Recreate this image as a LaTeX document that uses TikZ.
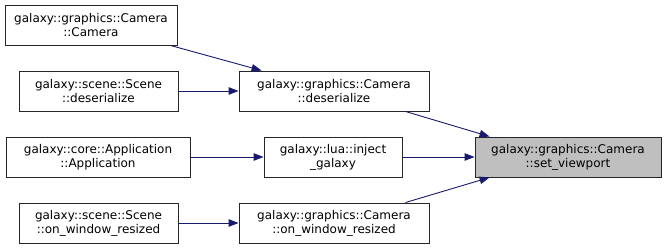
\documentclass[tikz,border=0pt]{standalone}
\usepackage{fontspec}
\setmainfont{DejaVu Sans}
\usetikzlibrary{arrows.meta}
\definecolor{edgeblue}{HTML}{191970}
\definecolor{hlgray}{HTML}{BFBFBF}
\begin{document}
\begin{tikzpicture}[x=1pt,y=-1pt,
  fn/.style={draw=black!85, line width=0.9pt, rectangle, inner sep=0pt,
    minimum height=40pt, align=center,
    font=\fontsize{12}{14}\selectfont},
  call/.style={draw=edgeblue, line width=0.9pt,
    -{Triangle[length=10pt,width=7.5pt,fill=edgeblue]}}]
  \useasboundingbox (0,0) rectangle (667,248);

  % callers, left column
  \node[fn, minimum width=172pt] (camctor) at (91,25)
    {galaxy::graphics::Camera\\::Camera};
  \node[fn, minimum width=159pt] (scenedes) at (98.5,91)
    {galaxy::scene::Scene\\::deserialize};
  \node[fn, minimum width=184pt] (appctor) at (98,157)
    {galaxy::core::Application\\::Application};
  \node[fn, minimum width=159pt] (scenewin) at (98.5,223)
    {galaxy::scene::Scene\\::on\_window\_resized};

  % middle column
  \node[fn, minimum width=190pt] (camdes) at (334,91)
    {galaxy::graphics::Camera\\::deserialize};
  \node[fn, minimum width=138pt] (inject) at (333,157)
    {galaxy::lua::inject\\\_galaxy};
  \node[fn, minimum width=190pt] (camwin) at (334,223)
    {galaxy::graphics::Camera\\::on\_window\_resized};

  % function of interest
  \node[fn, fill=hlgray, minimum width=186pt] (setvp) at (568,157)
    {galaxy::graphics::Camera\\::set\_viewport};

  % call edges
  \draw[call] ([xshift=-7pt]camctor.south east) -- ([xshift=23pt]camdes.north west);
  \draw[call] (scenedes.east) -- (camdes.west);
  \draw[call] (appctor.east) -- (inject.west);
  \draw[call] (scenewin.east) -- (camwin.west);
  \draw[call] ([xshift=-24pt]camdes.south east) -- ([xshift=15pt]setvp.north west);
  \draw[call] (inject.east) -- (setvp.west);
  \draw[call] ([xshift=-24pt]camwin.north east) -- ([xshift=15pt]setvp.south west);
\end{tikzpicture}
\end{document}
